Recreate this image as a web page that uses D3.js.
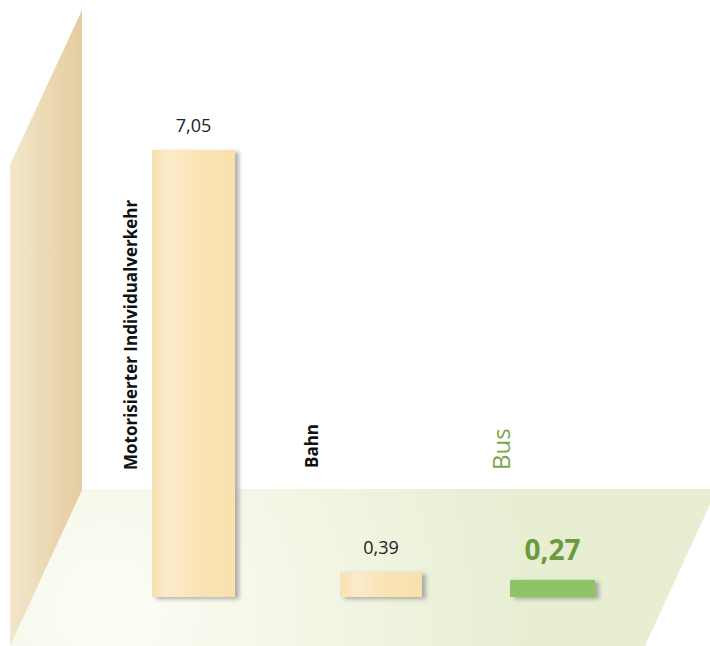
<!doctype html>
<html lang="en">
<head>
  <meta charset="utf-8">
  <title>Verkehr</title>
  <script src="https://d3js.org/d3.v7.min.js"></script>
  <style>
  body { margin: 0; background: #fff; }
  text { font-family: "Open Sans", "Noto Sans", sans-serif; }
  </style>
</head>
<body>
<script>
  // data
  var categories = ["Motorisierter Individualverkehr", "Bahn", "Bus"]
  var values = [7.05, 0.39, 0.27]
  var valueLabels = ["7,05", "0,39", "0,27"]

  var W = 710, H = 646
  var svg = d3.select("body").append("svg")
      .attr("width", W).attr("height", H)

  var defs = svg.append("defs")

  // wall gradient
  var gw = defs.append("linearGradient").attr("id", "wall")
      .attr("x1", "0").attr("x2", "1").attr("y1", "0").attr("y2", "0")
  gw.append("stop").attr("offset", "0").attr("stop-color", "#f3e6cb")
  gw.append("stop").attr("offset", "1").attr("stop-color", "#e4cd9f")

  // floor gradient
  var gf = defs.append("radialGradient").attr("id", "floor")
      .attr("gradientUnits", "userSpaceOnUse")
      .attr("cx", 110).attr("cy", 610).attr("r", 420)
  gf.append("stop").attr("offset", "0").attr("stop-color", "#fdfdf6")
  gf.append("stop").attr("offset", "0.35").attr("stop-color", "#f6f8ea")
  gf.append("stop").attr("offset", "1").attr("stop-color", "#e7eed2")

  // bar gradient
  var gb = defs.append("linearGradient").attr("id", "bar")
      .attr("x1", "0").attr("x2", "1").attr("y1", "0").attr("y2", "0")
  gb.append("stop").attr("offset", "0").attr("stop-color", "#f8e0b0")
  gb.append("stop").attr("offset", "0.2").attr("stop-color", "#fcebcb")
  gb.append("stop").attr("offset", "0.55").attr("stop-color", "#fae3b4")
  gb.append("stop").attr("offset", "1").attr("stop-color", "#f9e1ae")

  var shadow = defs.append("filter").attr("id", "shadow")
      .attr("x", "-20%").attr("y", "-20%").attr("width", "150%").attr("height", "150%")
  shadow.append("feDropShadow").attr("dx", 4).attr("dy", 2)
      .attr("stdDeviation", 2).attr("flood-color", "#6f6f6f").attr("flood-opacity", 0.55)

  // floor and wall
  svg.append("polygon")
      .attr("points", "82,489 712,489 712,500 645,646 10,646")
      .attr("fill", "url(#floor)")
  svg.append("polygon")
      .attr("points", "10,165 82,10 82,490 10,646")
      .attr("fill", "url(#wall)")

  // scales
  var x = d3.scaleOrdinal().domain(categories).range([152, 340, 510])
  var bw = d3.scaleOrdinal().domain(categories).range([83, 82, 85])
  var y = d3.scaleLinear().domain([0, 7.05]).range([597, 150])

  var colors = ["url(#bar)", "url(#bar)", "#8fc466"]

  svg.selectAll(".bar")
      .data(categories)
    .enter().append("rect")
      .attr("class", "bar")
      .attr("x", function(d) { return x(d) })
      .attr("width", function(d) { return bw(d) })
      .attr("y", function(d, i) { return y(values[i]) })
      .attr("height", function(d, i) { return y(0) - y(values[i]) })
      .attr("fill", function(d, i) { return colors[i] })
      .attr("filter", "url(#shadow)")

  // value labels
  svg.selectAll(".val")
      .data(categories)
    .enter().append("text")
      .attr("class", "val")
      .attr("x", function(d) { return x(d) + bw(d) / 2 })
      .attr("y", function(d, i) { return y(values[i]) - (i == 2 ? 20 : 18) })
      .attr("text-anchor", "middle")
      .attr("font-size", function(d, i) { return i == 2 ? 28 : 18 })
      .attr("font-weight", function(d, i) { return i == 2 ? "bold" : "normal" })
      .attr("fill", function(d, i) { return i == 2 ? "#6c9a3e" : "#222" })
      .text(function(d, i) { return valueLabels[i] })

  // category labels, rotated
  var labX = [137, 318, 510]
  var labY = [470, 468, 470]
  svg.selectAll(".cat")
      .data(categories)
    .enter().append("text")
      .attr("class", "cat")
      .attr("transform", function(d, i) { return "translate(" + labX[i] + "," + labY[i] + ") rotate(-90)" })
      .attr("font-size", function(d, i) { return i == 2 ? 24 : 17 })
      .attr("font-weight", function(d, i) { return i == 2 ? "normal" : "bold" })
      .attr("fill", function(d, i) { return i == 2 ? "#7aa84a" : "#111" })
      .text(function(d) { return d })
</script>
</body>
</html>
